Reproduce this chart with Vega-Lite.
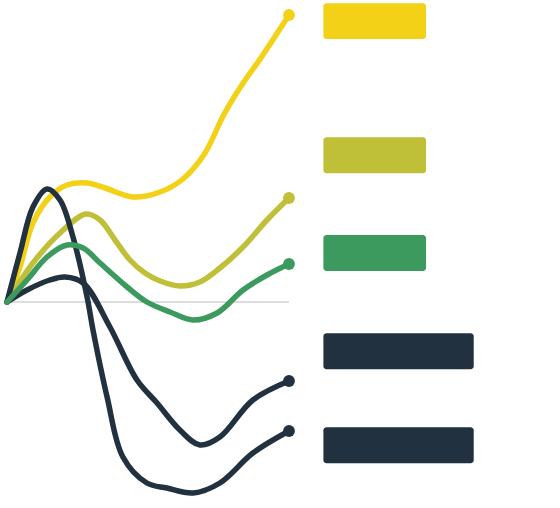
{
  "$schema": "https://vega.github.io/schema/vega-lite/v6.json",
  "width": 560,
  "height": 508,
  "padding": 0,
  "autosize": {"type": "fit", "contains": "padding"},
  "background": "white",
  "config": {"view": {"stroke": null}},
  "datasets": {
    "lines": [
      {"s":"A","x":0,"y":0},{"s":"A","x":4.6,"y":3.5},{"s":"A","x":9.2,"y":7.9},{"s":"A","x":15.2,"y":10.5},{"s":"A","x":21.3,"y":11.7},{"s":"A","x":28.4,"y":11.9},{"s":"A","x":34.8,"y":11.4},{"s":"A","x":44.7,"y":10.5},{"s":"A","x":54.3,"y":11.0},{"s":"A","x":62.4,"y":12.3},{"s":"A","x":70.0,"y":14.8},{"s":"A","x":77.0,"y":18.8},{"s":"A","x":83.5,"y":21.8},{"s":"A","x":90.0,"y":24.4},{"s":"A","x":100,"y":28.7},
      {"s":"B","x":0,"y":0},{"s":"B","x":9.2,"y":3.9},{"s":"B","x":18.8,"y":6.9},{"s":"B","x":28.0,"y":8.8},{"s":"B","x":33.0,"y":8.2},{"s":"B","x":38.3,"y":6.2},{"s":"B","x":43.6,"y":4.2},{"s":"B","x":48.9,"y":2.9},{"s":"B","x":54.3,"y":2.1},{"s":"B","x":61.3,"y":1.6},{"s":"B","x":68.4,"y":2.0},{"s":"B","x":75.5,"y":3.4},{"s":"B","x":83.7,"y":5.5},{"s":"B","x":92.2,"y":8.2},{"s":"B","x":100,"y":10.4},
      {"s":"C","x":0,"y":0},{"s":"C","x":7.1,"y":1.2},{"s":"C","x":15.2,"y":2.2},{"s":"C","x":20.6,"y":2.5},{"s":"C","x":27.0,"y":1.9},{"s":"C","x":36.5,"y":-2.5},{"s":"C","x":46.1,"y":-7.8},{"s":"C","x":53.2,"y":-10.1},{"s":"C","x":61.3,"y":-12.8},{"s":"C","x":68.4,"y":-14.3},{"s":"C","x":75.5,"y":-13.5},{"s":"C","x":87.2,"y":-9.8},{"s":"C","x":100,"y":-7.9},
      {"s":"D","x":0,"y":0},{"s":"D","x":4.6,"y":4.9},{"s":"D","x":9.2,"y":9.5},{"s":"D","x":14.2,"y":11.3},{"s":"D","x":18.8,"y":10.2},{"s":"D","x":23.4,"y":6.5},{"s":"D","x":28.4,"y":0.5},{"s":"D","x":30.5,"y":-2.8},{"s":"D","x":35.5,"y":-9.5},{"s":"D","x":41.1,"y":-15.5},{"s":"D","x":49.6,"y":-18.1},{"s":"D","x":56.7,"y":-18.6},{"s":"D","x":66.0,"y":-19.1},{"s":"D","x":75.5,"y":-18.1},{"s":"D","x":87.2,"y":-15.1},{"s":"D","x":100,"y":-12.9},
      {"s":"E","x":0,"y":0},{"s":"E","x":7.1,"y":2.2},{"s":"E","x":14.2,"y":4.5},{"s":"E","x":21.3,"y":5.7},{"s":"E","x":27.0,"y":5.4},{"s":"E","x":33.0,"y":3.9},{"s":"E","x":42.6,"y":1.5},{"s":"E","x":49.6,"y":0},{"s":"E","x":57.8,"y":-1.0},{"s":"E","x":66.0,"y":-1.8},{"s":"E","x":74.5,"y":-1.1},{"s":"E","x":83.7,"y":1.2},{"s":"E","x":92.2,"y":2.7},{"s":"E","x":100,"y":3.8}
    ],
    "labels": [
      {"s":"A","x1":112.2,"x2":148.6,"y1":29.87,"y2":26.3},
      {"s":"B","x1":112.2,"x2":148.6,"y1":16.47,"y2":12.87},
      {"s":"C","x1":112.2,"x2":165.5,"y1":-3.13,"y2":-6.73},
      {"s":"D","x1":112.2,"x2":165.5,"y1":-12.53,"y2":-16.13},
      {"s":"E","x1":112.2,"x2":148.6,"y1":6.7,"y2":3.1}
    ]
  },
  "encoding": {},
  "layer": [
    {
      "data": {"values": [{"x0": 0, "x1": 100, "y": 0}]},
      "mark": {"type": "rule", "color": "#dddddd", "strokeWidth": 2},
      "encoding": {
        "x": {"field": "x0", "type": "quantitative", "scale": {"domain": [-2.48, 196.1], "nice": false, "zero": false}, "axis": null},
        "x2": {"field": "x1"},
        "y": {"field": "y", "type": "quantitative", "scale": {"domain": [-20.6, 30.2], "nice": false, "zero": false}, "axis": null}
      }
    },
    {
      "data": {"name": "lines"},
      "mark": {"type": "line", "interpolate": "catmull-rom", "strokeWidth": 5.5, "strokeCap": "round", "strokeJoin": "round"},
      "encoding": {
        "x": {"field": "x", "type": "quantitative", "scale": {"domain": [-2.48, 196.1], "nice": false, "zero": false}, "axis": null},
        "y": {"field": "y", "type": "quantitative", "scale": {"domain": [-20.6, 30.2], "nice": false, "zero": false}, "axis": null},
        "color": {"field": "s", "type": "nominal", "legend": null, "scale": {"domain": ["A","B","C","D","E"], "range": ["#F2D116","#BFBF38","#22313F","#22313F","#3C9A5F"]}}
      }
    },
    {
      "data": {"name": "lines"},
      "transform": [{"filter": "datum.x == 100"}],
      "mark": {"type": "point", "filled": true, "opacity": 1, "size": 140},
      "encoding": {
        "x": {"field": "x", "type": "quantitative"},
        "y": {"field": "y", "type": "quantitative"},
        "color": {"field": "s", "type": "nominal", "legend": null}
      }
    },
    {
      "data": {"name": "labels"},
      "mark": {"type": "rect", "cornerRadius": 3},
      "encoding": {
        "x": {"field": "x1", "type": "quantitative"},
        "x2": {"field": "x2"},
        "y": {"field": "y1", "type": "quantitative"},
        "y2": {"field": "y2"},
        "color": {"field": "s", "type": "nominal", "legend": null}
      }
    }
  ]
}
